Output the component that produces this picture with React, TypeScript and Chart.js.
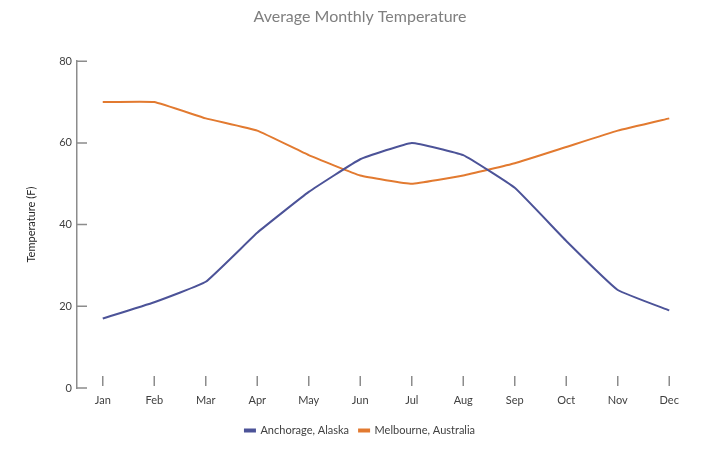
import { useEffect, useRef } from 'react';
import { Chart, registerables } from 'chart.js';

Chart.register(...registerables);

const months = ['Jan', 'Feb', 'Mar', 'Apr', 'May', 'Jun', 'Jul', 'Aug', 'Sep', 'Oct', 'Nov', 'Dec'];
const anchorage = [17, 21, 26, 38, 48, 56, 60, 57, 49, 36, 24, 19];
const melbourne = [70, 70, 66, 63, 57, 52, 50, 52, 55, 59, 63, 66];
const yTicks = [0, 20, 40, 60, 80];

const FONT = 'Lato, "Open Sans", sans-serif';
const AXIS_GRAY = '#8c8c8c';

// small tick marks drawn inward from the axes, like the original
const innerTicks = {
  id: 'innerTicks',
  afterDatasetsDraw(chart: Chart) {
    const { ctx, chartArea, scales } = chart;
    ctx.save();
    ctx.strokeStyle = AXIS_GRAY;
    ctx.lineWidth = 1.5;
    ctx.beginPath();
    yTicks.forEach((v) => {
      const y = scales.y.getPixelForValue(v);
      ctx.moveTo(chartArea.left, y);
      ctx.lineTo(chartArea.left + 10, y);
    });
    months.forEach((_, i) => {
      const x = scales.x.getPixelForValue(i);
      ctx.moveTo(x, chartArea.bottom - 12);
      ctx.lineTo(x, chartArea.bottom - 2);
    });
    ctx.stroke();
    ctx.restore();
  },
};

export default function App() {
  const canvasRef = useRef<HTMLCanvasElement>(null);
  const chartRef = useRef<Chart | null>(null);

  useEffect(() => {
    if (!canvasRef.current) return;
    if (chartRef.current) chartRef.current.destroy();
    document.body.style.margin = '0';

    chartRef.current = new Chart(canvasRef.current, {
      type: 'line',
      data: {
        labels: months,
        datasets: [
          {
            label: 'Anchorage, Alaska',
            data: anchorage,
            borderColor: '#4c5398',
            backgroundColor: '#4c5398',
            borderWidth: 2,
            pointRadius: 0,
            tension: 0.1,
          },
          {
            label: 'Melbourne, Australia',
            data: melbourne,
            borderColor: '#e27a30',
            backgroundColor: '#e27a30',
            borderWidth: 2,
            pointRadius: 0,
            tension: 0.1,
          },
        ],
      },
      options: {
        responsive: true,
        maintainAspectRatio: false,
        animation: false,
        layout: { padding: { left: 0, right: 0, top: 0, bottom: 13 } },
        scales: {
          x: {
            offset: true,
            afterFit: (s: any) => { s.height = 27; },
            border: { display: false },
            grid: { display: false, drawTicks: false },
            ticks: { color: '#404040', font: { family: FONT, size: 11 }, padding: 6, maxRotation: 0 },
          },
          y: {
            min: 0,
            max: 80,
            afterFit: (s: any) => { s.width = 77; },
            afterBuildTicks: (s: any) => { s.ticks = yTicks.map((v) => ({ value: v })); },
            border: { display: true, color: AXIS_GRAY, width: 1.5 },
            grid: { display: false, drawTicks: false },
            ticks: { color: '#404040', font: { family: FONT, size: 11 }, padding: 5 },
            title: {
              display: true,
              text: 'Temperature (F)',
              color: '#262626',
              font: { family: FONT, size: 11 },
              padding: { top: 25, bottom: 0 },
            },
          },
          // empty spacer on the right so title and legend stay centred on the page
          spacer: {
            position: 'right',
            min: 0,
            max: 1,
            afterFit: (s: any) => { s.width = 25; },
            border: { display: false },
            grid: { display: false, drawTicks: false },
            ticks: { display: false },
          },
        },
        plugins: {
          title: {
            display: true,
            text: 'Average Monthly Temperature',
            color: '#7f7f7f',
            font: { family: FONT, size: 16, weight: 'normal' },
            padding: { top: 7, bottom: 35 },
          },
          legend: {
            position: 'bottom',
            labels: {
              boxWidth: 10,
              boxHeight: 2,
              color: '#404040',
              font: { family: FONT, size: 11 },
              padding: 10,
            },
          },
          tooltip: { enabled: false },
        },
      },
      plugins: [innerTicks],
    });

    return () => { chartRef.current?.destroy(); };
  }, []);

  return (
    <div style={{ position: 'relative', width: 720, height: 459 }}>
      <canvas ref={canvasRef} />
    </div>
  );
}
